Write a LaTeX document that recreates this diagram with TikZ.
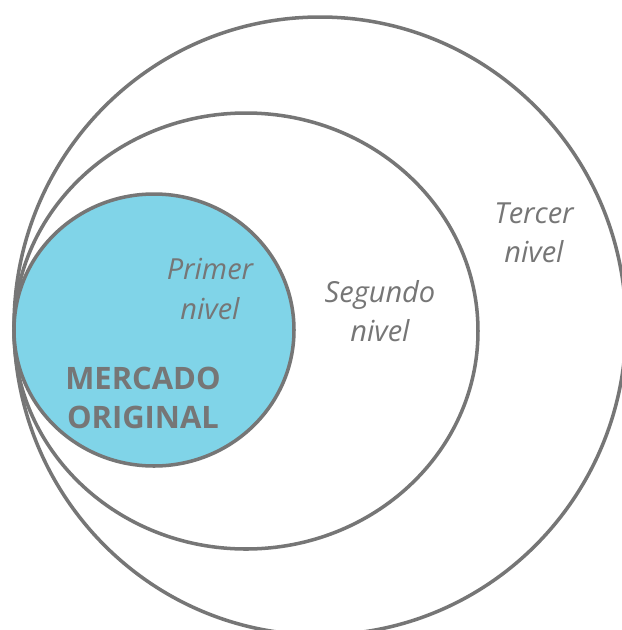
\documentclass[tikz,border=0pt]{standalone}
\usepackage{fontspec}
\setmainfont{Open Sans}
\usetikzlibrary{positioning}
\definecolor{ringgray}{HTML}{767676}
\definecolor{marketblue}{HTML}{80D4E8}
\tikzset{
  ring/.style={draw=ringgray, line width=2pt},
  levellabel/.style={text=ringgray, align=center, font=\itshape\fontsize{16.5}{22.3}\selectfont},
  marketlabel/.style={text=ringgray, align=center, font=\bfseries\fontsize{17.6}{22.1}\selectfont}
}
\begin{document}
\begin{tikzpicture}[x=0.02cm, y=-0.02cm]
    \useasboundingbox (0,0) rectangle (622,630);
    % Rings
    \draw[ring, fill=white] (320,326) ellipse [x radius=306, y radius=309];
    \draw[ring, fill=white] (246,331) ellipse [x radius=232, y radius=218];
    \draw[ring, fill=marketblue] (154,330) ellipse [x radius=140, y radius=136];

    % Labels
    \node[levellabel] (primer) at (210,289) {Primer\\nivel};
    \node[levellabel] (segundo) at (380,311) {Segundo\\nivel};
    \node[levellabel] (tercer) at (534,233) {Tercer\\nivel};
    \node[marketlabel] (mercado) at (143,398) {MERCADO\\ORIGINAL};
\end{tikzpicture}
\end{document}
